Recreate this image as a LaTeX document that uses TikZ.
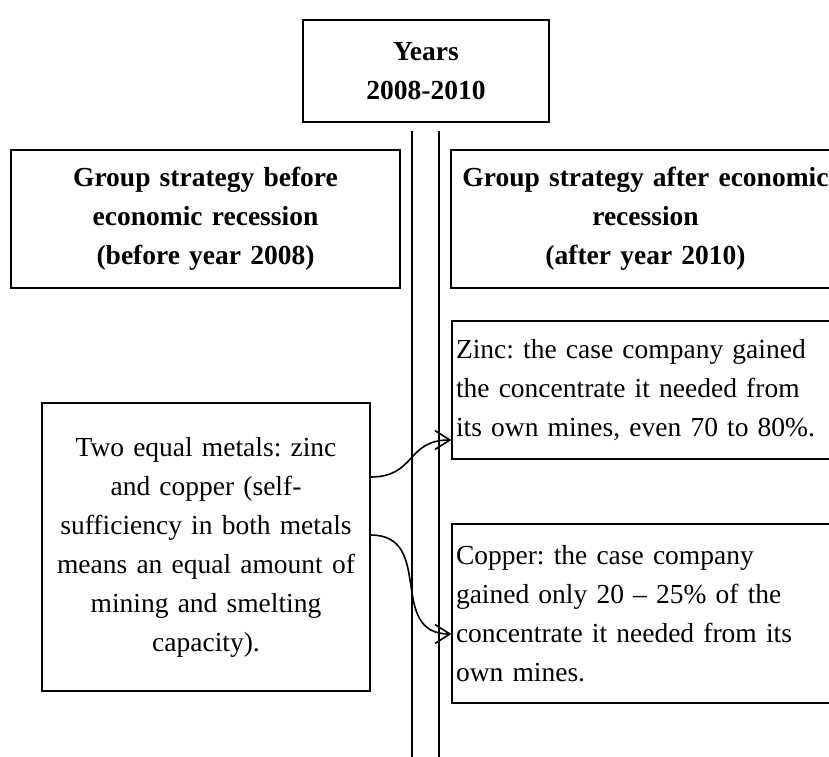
\documentclass[tikz,border=0pt]{standalone}
\usepackage{fontspec}
\setmainfont{Liberation Serif}
\frenchspacing
\usetikzlibrary{arrows.meta}

\begin{document}
\begin{tikzpicture}[x=1pt, y=-1pt,
    txt/.style={font=\fontsize{27.5}{39}\selectfont},
    box/.style={txt, draw, line width=1.2pt, inner xsep=4pt, inner ysep=0pt},
    headbox/.style={box, font=\fontsize{27.5}{39}\selectfont\bfseries, align=center},
    rail/.style={line width=1.2pt},
    flow/.style={line width=1.6pt, looseness=1.3, -{Straight Barb[length=15pt, width=19pt]}}]
  \clip (0,0) rectangle (829,756);
  \node [headbox, text width=238pt, minimum height=102pt] (years) at (426,71)
    {Years\\2008-2010};
  \node [headbox, text width=381pt, minimum height=138pt] (before) at (205.5,219)
    {Group strategy before\\economic recession\\(before year 2008)};
  \node [headbox, text width=381pt, minimum height=138pt] (after) at (645.5,219)
    {Group strategy after economic\\recession\\(after year 2010)};
  \node [box, align=center, text width=320pt, minimum height=288pt] (metals) at (206,547)
    {Two equal metals: zinc\\and copper (self-\\sufficiency in both metals\\means an equal amount of\\mining and smelting\\capacity).};
  \node [box, align=left, text width=380pt, minimum height=138pt] (zinc) at (646,390)
    {Zinc: the case company gained\\the concentrate it needed from\\its own mines, even 70 to 80\%.};
  \node [box, align=left, text width=380pt, minimum height=179pt] (copper) at (646,613.5)
    {Copper: the case company\\gained only 20 -- 25\% of the\\concentrate it needed from its\\own mines.};
  % the two rails below the years box
  \coordinate (railA) at (412,131);
  \coordinate (railB) at (439,131);
  \draw [rail] (railA) -- (412,760);
  \draw [rail] (railB) -- (439,760);
  \draw [flow] ([yshift=70pt]metals.east) to[out=0, in=180] ([yshift=-50pt]zinc.west);
  \draw [flow] ([yshift=12pt]metals.east) to[out=0, in=180] ([yshift=-20.5pt]copper.west);
\end{tikzpicture}
\end{document}
